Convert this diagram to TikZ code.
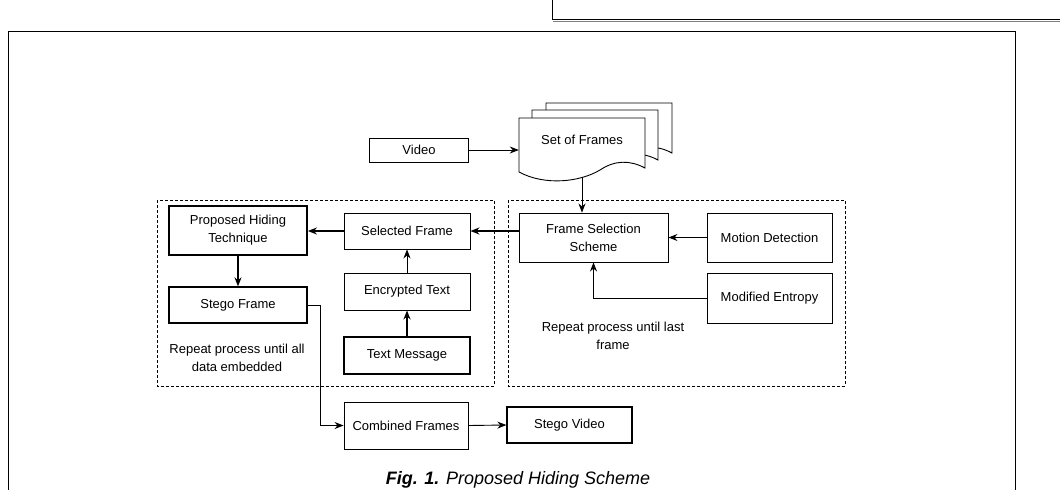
\documentclass[tikz,border=0pt]{standalone}
\usepackage{fontspec}
\setmainfont{Liberation Sans}
\usetikzlibrary{arrows.meta}

\tikzset{
  blk/.style={draw,line width=0.9pt,fill=white,inner sep=2pt,align=center,
    font=\fontsize{13}{18}\selectfont},
  thickblk/.style={blk,line width=1.8pt},
  grp/.style={line width=1pt,dash pattern=on 3pt off 2pt},
  lnk/.style={line width=0.9pt,-{Stealth[length=9pt,width=7pt]}},
  thicklnk/.style={lnk,line width=1.8pt},
  note/.style={font=\fontsize{13}{18}\selectfont,align=center}
}

\begin{document}
\begin{tikzpicture}[x=1pt,y=-1pt]
   \useasboundingbox (0,0) rectangle (1060,490);

   % page frames
   \draw[line width=0.8pt] (8,490) -- (8,31) -- (1015,31) -- (1015,490);
   \draw[line width=0.8pt] (552,0) -- (552,19) -- (1060,19);
   \draw[line width=0.8pt,gray] (553,21) -- (1060,21);

   % stack of frames
   \foreach \dx/\dy in {27/-15,13/-8,0/0}
     \draw[line width=0.9pt,fill=white,shift={(\dx,\dy)}]
       (519,172) -- (519,118) -- (645,118) -- (645,168)
       .. controls (630,160) and (615,160) .. (600,170)
       .. controls (580,182) and (545,186) .. (519,172);

   % dashed groups
   \draw[grp] (157,200) rectangle (494,386);
   \draw[grp] (508,200) rectangle (845,386);

   \node[blk,minimum width=99pt,minimum height=24pt] (video) at (419,150) {Video};
   \node[note,minimum width=126pt,minimum height=74pt] (frames) at (582,140) {Set of Frames};

   \node[thickblk,minimum width=138pt,minimum height=49pt] (pht) at (238,230.5) {Proposed Hiding\\Technique};
   \node[blk,minimum width=126pt,minimum height=36pt] (sel) at (407,231) {Selected Frame};
   \node[blk,minimum width=126pt,minimum height=37pt] (enc) at (407,291.5) {Encrypted Text};
   \node[thickblk,minimum width=126pt,minimum height=37pt] (msg) at (407,355.5) {Text Message};
   \node[blk,line width=1.3pt,minimum width=138pt,minimum height=36pt] (sf) at (238,305) {Stego Frame};
   \node[note] (repall) at (237,357.5) {Repeat process until all\\data embedded};

   \node[blk,minimum width=149pt,minimum height=49pt] (fss) at (593.5,237.5) {Frame Selection\\Scheme};
   \node[blk,minimum width=125pt,minimum height=49pt] (motion) at (769.5,237.5) {Motion Detection};
   \node[blk,minimum width=125pt,minimum height=50pt] (entropy) at (769.5,298) {Modified Entropy};
   \node[note] (replast) at (613,336) {Repeat process until last\\frame};

   \node[blk,minimum width=124pt,minimum height=47pt] (comb) at (406,425.5) {Combined Frames};
   \node[blk,line width=1.3pt,minimum width=125pt,minimum height=36pt] (sv) at (569.5,425) {Stego Video};

   \node[font=\fontsize{18}{20}\selectfont] (cap) at (518,480) {\textbf{\textit{Fig. 1.}} \textit{Proposed Hiding Scheme}};

   \draw[lnk] (video.east) -- (video.east -| frames.west);
   \draw[lnk] (frames.south) -- (frames.south |- fss.north);
   \draw[thicklnk] (fss.west |- sel.east) -- (sel.east);
   \draw[thicklnk] (sel.west) -- (sel.west -| pht.east);
   \draw[thicklnk] (pht.south) -- (sf.north);
   \draw[lnk] (enc.north) -- (sel.south);
   \draw[thicklnk] (msg.north) -- (enc.south);
   \draw[lnk] (motion.west) -- (fss.east |- motion.west);
   \draw[lnk] (entropy.west) -| (fss.south);
   \draw[lnk] (sf.east) -- ++(13,0) |- (comb.west);
   \draw[lnk] (comb.east) -- (sv.west);
  \end{tikzpicture}
\end{document}
